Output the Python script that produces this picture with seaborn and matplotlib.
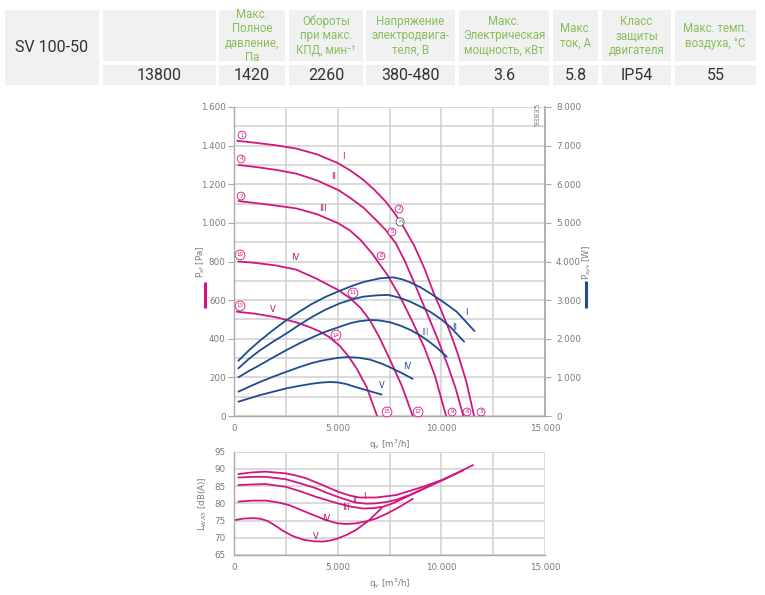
import numpy as np
import pandas as pd
import matplotlib
matplotlib.use("Agg")
import matplotlib.pyplot as plt
from matplotlib.ticker import FuncFormatter, MultipleLocator
import seaborn as sns

# --- таблица ---
model_name = "SV 100-50"
header_texts = ["", "Макс.\nПолное\nдавление,\nПа", "Обороты\nпри макс.\nКПД, мин\u207b\u00b9",
                "Напряжение\nэлектродвига-\nтеля, В", "Макс.\nЭлектрическая\nмощность, кВт",
                "Макс.\nток, А", "Класс\nзащиты\nдвигателя", "Макс. темп.\nвоздуха, \u00b0C"]
value_texts = ["13800", "1420", "2260", "380-480", "3.6", "5.8", "IP54", "55"]
col_edges = [(103, 216), (219, 285), (289, 363), (366, 455), (459, 549), (553, 598), (602, 671), (675, 756)]

# --- кривые давления, Па ---
q_I = [150, 1000, 2000, 3000, 4000, 5000, 5600, 6250, 6800, 7300, 7750, 8200, 8700, 9200, 9620, 10000, 10400, 10800, 11200, 11580]
p_I = [1425, 1415, 1402, 1385, 1355, 1310, 1272, 1222, 1168, 1112, 1050, 975, 880, 760, 640, 545, 440, 320, 180, 0]
q_II = [210, 1000, 2000, 3000, 4000, 5030, 5600, 6250, 6800, 7300, 7800, 8250, 8730, 9300, 9800, 10300, 10700, 11060]
p_II = [1300, 1290, 1275, 1255, 1220, 1170, 1130, 1078, 1020, 965, 895, 800, 680, 535, 405, 265, 140, 0]
q_III = [210, 1000, 2000, 3000, 4000, 5030, 5600, 6100, 6650, 7100, 7370, 8000, 8600, 9200, 9700, 10230]
p_III = [1113, 1103, 1090, 1075, 1045, 998, 960, 912, 843, 775, 735, 620, 490, 350, 205, 0]
q_IV = [210, 1000, 2000, 3000, 4000, 5030, 5600, 6100, 6560, 7000, 7530, 8100, 8620]
p_IV = [800, 793, 780, 758, 710, 652, 610, 560, 495, 410, 290, 155, 0]
q_V = [130, 1000, 2000, 3000, 3700, 4150, 4600, 5110, 5500, 5920, 6400, 6900]
p_V = [540, 530, 512, 485, 458, 437, 408, 362, 312, 245, 150, 0]

# --- мощность, Вт ---
qw_I = [210, 700, 1250, 1900, 2540, 3150, 3750, 4400, 5110, 5700, 6250, 7040, 7690, 8100, 8500, 9000, 9460, 10100, 10740, 11600]
w_I = [1430, 1690, 1950, 2230, 2486, 2700, 2900, 3080, 3244, 3370, 3470, 3565, 3590, 3540, 3460, 3330, 3177, 2950, 2700, 2200]
qw_II = [210, 700, 1250, 1900, 2540, 3150, 3750, 4400, 5110, 5700, 6250, 6900, 7450, 8000, 8500, 9000, 9460, 10000, 10420, 11100]
w_II = [1235, 1470, 1700, 1930, 2141, 2360, 2560, 2750, 2918, 3020, 3090, 3125, 3135, 3060, 2960, 2830, 2700, 2500, 2312, 1924]
qw_III = [210, 700, 1250, 1900, 2540, 3150, 3830, 4400, 5110, 5600, 6000, 6560, 7000, 7500, 8000, 8500, 9000, 9400, 9800, 10260]
w_III = [1000, 1160, 1320, 1520, 1709, 1880, 2050, 2180, 2312, 2400, 2450, 2486, 2475, 2430, 2345, 2230, 2080, 1930, 1760, 1536]
qw_IV = [210, 700, 1250, 1900, 2540, 3150, 3750, 4200, 4630, 5000, 5440, 6000, 6560, 7100, 7530, 8100, 8620]
w_IV = [630, 750, 880, 1020, 1147, 1265, 1370, 1430, 1470, 1505, 1525, 1510, 1460, 1360, 1260, 1110, 960]
qw_V = [210, 700, 1250, 1900, 2540, 3150, 3750, 4200, 4630, 5000, 5400, 5800, 6240, 6700, 7120]
w_V = [370, 450, 540, 630, 717, 780, 835, 865, 880, 870, 830, 760, 690, 620, 555]

# --- шум, дБ(А) ---
qn_I = [210, 890, 1530, 2500, 2980, 3470, 4280, 5000, 5565, 6050, 6860, 7820, 9110, 10080, 11530]
n_I = [88.5, 89.0, 89.2, 88.7, 88.1, 87.3, 85.3, 83.4, 82.3, 81.7, 81.7, 82.4, 84.8, 86.9, 91.1]
qn_II = [210, 890, 1530, 2500, 3200, 3950, 4500, 5000, 5450, 5890, 6400, 6860, 7350, 7820, 8500, 9110, 10080, 11060]
n_II = [87.5, 87.7, 87.7, 87.0, 85.8, 84.4, 83.0, 81.9, 81.0, 80.2, 79.9, 80.0, 80.4, 81.0, 82.5, 84.2, 86.8, 89.6]
qn_III = [210, 890, 1530, 2500, 3200, 3950, 4500, 5000, 5600, 6210, 6700, 7180, 7700, 8150, 9110, 10230]
n_III = [85.3, 85.5, 85.6, 84.8, 83.5, 81.9, 80.9, 80.0, 79.1, 78.5, 78.6, 79.0, 80.1, 81.4, 84.1, 87.3]
qn_IV = [210, 890, 1530, 2100, 2660, 3300, 3950, 4500, 5000, 5450, 5890, 6400, 6860, 7400, 7990, 8620]
n_IV = [80.5, 80.8, 80.8, 80.3, 79.5, 77.9, 76.3, 75.0, 74.2, 74.0, 74.2, 74.8, 75.6, 77.1, 79.0, 81.3]
qn_V = [80, 500, 950, 1300, 1650, 2000, 2340, 2800, 3310, 3800, 4280, 4650, 5000, 5450, 5890, 6500, 7100]
n_V = [75.2, 75.6, 75.7, 75.5, 74.8, 73.5, 72.1, 70.6, 69.5, 69.0, 68.9, 69.2, 69.8, 70.9, 72.3, 75.0, 78.5]

roman = ["I", "II", "III", "IV", "V"]
# подписи кривых (q, значение)
p_roman_pos = [(5260, 1346), (4820, 1238), (4290, 1072), (2940, 823), (1880, 554)]
w_roman_pos = [(11190, 2667), (10660, 2304), (9210, 2149), (8350, 1269), (7140, 777)]
n_roman_pos = [(6270, 81.9), (5800, 80.9), (5400, 78.7), (4470, 75.6), (3950, 70.3)]
circle_nums = ["1", "4", "7", "10", "13", "2", "5", "8", "11", "14", "3", "6", "9", "12", "15"]
circle_pos = [(390, 1455), (340, 1331), (340, 1139), (290, 834), (290, 570),
              (7960, 1072), (7620, 953), (7090, 829), (5740, 637), (4920, 419),
              (11920, 21), (11240, 21), (10520, 21), (8880, 21), (7380, 21)]

PINK = "#d0177f"
BLUE = "#1d4c8f"
GRID = "#cfcfcf"
TICK = "#7a7a7a"
GREEN = "#86bf5c"

sns.set_theme(style="white")
plt.rcParams['font.family'] = ['DejaVu Sans']

fig = plt.figure(figsize=(7.65, 5.95), dpi=100)

# overlay в пикселях
ov = fig.add_axes([0, 0, 1, 1])
ov.set_xlim(0, 765)
ov.set_ylim(595, 0)
ov.axis("off")
ov.set_zorder(10)
cell = "#f1f1f1"
ov.add_patch(plt.Rectangle((5, 10), 94, 75, color=cell, lw=0))
ov.text(52, 48, model_name, ha="center", va="center", fontsize=11.5, color="#333333", family="Roboto")
for (x0, x1), h, v in zip(col_edges, header_texts, value_texts):
    ov.add_patch(plt.Rectangle((x0, 10), x1 - x0, 51, color=cell, lw=0))
    ov.add_patch(plt.Rectangle((x0, 65), x1 - x0, 20, color=cell, lw=0))
    ov.text((x0 + x1) / 2, 36, h, ha="center", va="center", fontsize=8.3, color=GREEN,
            linespacing=1.15, family="Roboto")
    ov.text((x0 + x1) / 2, 75.5, v, ha="center", va="center", fontsize=11.5, color="#333333", family="Roboto")

ov.text(201, 262, r"P$_{sf}$ [Pa]", rotation=90, ha="center", va="center", fontsize=6.3, color=TICK)
ov.plot([205, 205], [282, 308], color=PINK, lw=2.2, solid_capstyle="butt")
ov.text(587, 262, r"P$_{sys}$ [W]", rotation=90, ha="center", va="center", fontsize=6.3, color=TICK)
ov.plot([586, 586], [281, 308], color=BLUE, lw=2.2, solid_capstyle="butt")
ov.text(538, 114, "93835", rotation=90, ha="center", va="center", fontsize=5.3, color=TICK)

thousands = FuncFormatter(lambda v, pos: f"{v:,.0f}".replace(",", "."))


def style_axes(a):
    for s in ["top", "right"]:
        a.spines[s].set_visible(False)
    for s in ["left", "bottom"]:
        a.spines[s].set_color("#aaaaaa")
        a.spines[s].set_linewidth(1.0)
    a.tick_params(axis="both", length=4, width=0.8, color="#aaaaaa", labelsize=6.3,
                  labelcolor=TICK, pad=2)
    a.grid(True, which="both", color=GRID, lw=1.1)
    a.set_axisbelow(True)


# --- основной график ---
ax = fig.add_axes([234 / 765, (595 - 416) / 595, 311 / 765, 309 / 595])
style_axes(ax)
ax.set_xlim(0, 15000)
ax.set_ylim(0, 1600)
ax.xaxis.set_major_locator(MultipleLocator(5000))
ax.xaxis.set_minor_locator(MultipleLocator(2500))
ax.yaxis.set_major_locator(MultipleLocator(200))
ax.yaxis.set_minor_locator(MultipleLocator(100))
ax.tick_params(which="minor", length=0)
ax.xaxis.set_major_formatter(thousands)
ax.yaxis.set_major_formatter(thousands)
ax.set_xlabel(r"q$_v$ [m$^3$/h]", fontsize=6.3, color=TICK, labelpad=3)
ax.set_ylabel("")

p_curves = [(q_I, p_I), (q_II, p_II), (q_III, p_III), (q_IV, p_IV), (q_V, p_V)]
for qq, pp in p_curves:
    sns.lineplot(x=qq, y=pp, ax=ax, color=PINK, lw=1.3, sort=False, estimator=None)

for name, (qx, py) in zip(roman, p_roman_pos):
    ax.text(qx, py, name, color="#b0126f", fontsize=6, ha="center", va="center")
for num, (qx, py) in zip(circle_nums, circle_pos):
    ax.text(qx, py, num, color=PINK, fontsize=4, ha="center", va="center",
            bbox=dict(boxstyle="circle,pad=0.25", fc="white", ec=PINK, lw=0.6))
ax.text(8010, 1005, "n", color="#555555", fontsize=4.5, ha="center", va="center",
        bbox=dict(boxstyle="circle,pad=0.25", fc="white", ec="#555555", lw=0.6))

ax2 = ax.twinx()
ax2.set_ylim(0, 8000)
ax2.yaxis.set_major_locator(MultipleLocator(1000))
ax2.yaxis.set_major_formatter(thousands)
for s in ["top", "left", "bottom"]:
    ax2.spines[s].set_visible(False)
ax2.spines["right"].set_color("#aaaaaa")
ax2.tick_params(axis="y", length=4, width=0.8, color="#aaaaaa", labelsize=6.3, labelcolor=TICK, pad=4)
ax2.grid(False)
w_curves = [(qw_I, w_I), (qw_II, w_II), (qw_III, w_III), (qw_IV, w_IV), (qw_V, w_V)]
for qq, ww in w_curves:
    sns.lineplot(x=qq, y=ww, ax=ax2, color=BLUE, lw=1.3, sort=False, estimator=None)
for i, (name, (qx, wy)) in enumerate(zip(roman, w_roman_pos)):
    ax2.text(qx, wy, name, color=BLUE if i != 2 else "#6f7cc0", fontsize=6, ha="center", va="center")
ax2.set_ylabel("")

# --- шум ---
axn = fig.add_axes([234 / 765, (595 - 555) / 595, 311 / 765, 103.3 / 595])
style_axes(axn)
axn.set_xlim(0, 15000)
axn.set_ylim(65, 95)
axn.xaxis.set_major_locator(MultipleLocator(5000))
axn.xaxis.set_minor_locator(MultipleLocator(2500))
axn.yaxis.set_major_locator(MultipleLocator(5))
axn.tick_params(which="minor", length=0)
axn.xaxis.set_major_formatter(thousands)
axn.set_xlabel(r"q$_v$ [m$^3$/h]", fontsize=6.3, color=TICK, labelpad=3)
axn.set_ylabel(r"L$_{WA5}$ [dB(A)]", fontsize=6.3, color=TICK, labelpad=4)
n_curves = [(qn_I, n_I), (qn_II, n_II), (qn_III, n_III), (qn_IV, n_IV), (qn_V, n_V)]
for qq, nn in n_curves:
    sns.lineplot(x=qq, y=nn, ax=axn, color=PINK, lw=1.3, sort=False, estimator=None)
for name, (qx, ny) in zip(roman, n_roman_pos):
    axn.text(qx, ny, name, color="#b0126f", fontsize=6, ha="center", va="center")

fig.savefig("out.png", dpi=100, facecolor="white")
